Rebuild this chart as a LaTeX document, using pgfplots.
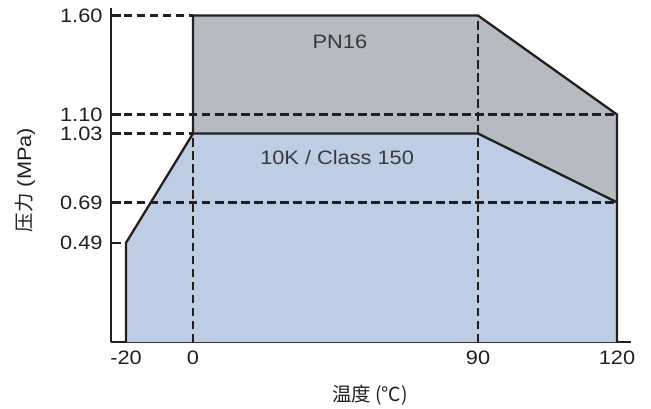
\documentclass[border=0pt]{standalone}
\usepackage{fontspec}
\setmainfont{Liberation Sans}[FakeStretch=1.12]
\newfontfamily\cjk{Noto Sans CJK SC}
\usepackage{pgfplots}
\pgfplotsset{compat=1.18}

\definecolor{pngray}{HTML}{B6BAC1}
\definecolor{kblue}{HTML}{BFCDE4}
\definecolor{edge}{HTML}{231F20}
\definecolor{txt}{HTML}{3A3A3A}

\begin{document}
\begin{tikzpicture}
\useasboundingbox (-111bp,-67bp) rectangle (540bp,342bp);
\begin{axis}[
    at={(0,0)}, anchor=south west,
    scale only axis, width=520bp, height=334bp,
    % the drawing is not to scale: piecewise maps, in bp from the axis corner
    x coord trafo/.code={\pgfmathparse{((#1)<0)*3.35*(#1)+((#1)>=0)*((#1)<=90)*3.1667*(#1)+((#1)>90)*(285+4.633*((#1)-90))}},
    y coord trafo/.code={\pgfmathparse{((#1)<=1.03)*202.4*(#1)+((#1)>1.03)*((#1)<=1.1)*(208.5+271*((#1)-1.03))+((#1)>1.1)*(227.5+198*((#1)-1.1))}},
    xmin=-24.48, xmax=123.02, ymin=0, ymax=1.638,
    axis x line*=bottom, axis y line*=left,
    axis line style={line width=2.8bp, edge},
    clip=false,
    xtick={-20,0,90,120}, xticklabels={-20,0,90,120},
    ytick={0.49,0.69,1.03,1.10,1.60},
    yticklabels={0.49,0.69,1.03,1.10,1.60},
    major x tick style={draw=none},
    major y tick style={line width=2.4bp, edge},
    major tick length=10bp, tick align=inside,
    tick label style={font=\fontsize{19.5}{22}\selectfont, text=edge},
    yticklabel style={xshift=-5bp},
    xticklabel style={yshift=-5bp},
    xlabel={\cjk 温度 (℃)},
    ylabel={{\cjk 压力} (MPa)},
    label style={font=\fontsize{19.5}{22}\selectfont, text=edge},
    xlabel style={at={(axis description cs:0.498,-0.159)}, anchor=center},
    ylabel style={at={(axis description cs:-0.1654,0.485)}, anchor=center},
]
% fills
\addplot[fill=kblue, draw=none] coordinates
    {(-20,0) (-20,0.49) (0,1.03) (90,1.03) (120,0.69) (120,0)} -- cycle;
\addplot[fill=pngray, draw=none] coordinates
    {(0,1.03) (0,1.60) (90,1.60) (120,1.10) (120,0.69) (90,1.03)} -- cycle;
% dashed guide lines
\addplot[edge, line width=2.4bp, dash pattern=on 8.5bp off 4.5bp] coordinates {(-24.48,1.60) (0,1.60)};
\addplot[edge, line width=2.4bp, dash pattern=on 8.5bp off 4.5bp] coordinates {(-24.48,1.10) (120,1.10)};
\addplot[edge, line width=2.4bp, dash pattern=on 8.5bp off 4.5bp] coordinates {(-24.48,1.03) (0,1.03)};
\addplot[edge, line width=2.4bp, dash pattern=on 8.5bp off 4.5bp] coordinates {(-24.48,0.69) (120,0.69)};
\addplot[edge, line width=2.4bp, dash pattern=on 8.5bp off 4.5bp] coordinates {(0,0) (0,1.03)};
\addplot[edge, line width=2.4bp, dash pattern=on 8.5bp off 4.5bp] coordinates {(90,0) (90,1.60)};
% outlines
\addplot[edge, line width=2.3bp, line join=miter] coordinates
    {(-20,0) (-20,0.49) (0,1.03) (90,1.03) (120,0.69) (120,0)};
\addplot[edge, line width=2.3bp, line join=miter] coordinates
    {(0,1.03) (0,1.60) (90,1.60) (120,1.10) (120,0.69)};
\node[text=txt, font=\fontsize{19.5}{22}\selectfont] at (axis cs:46.4,1.466) {PN16};
\node[text=txt, font=\fontsize{19.5}{22}\selectfont] at (axis cs:45.5,0.909) {10K / Class 150};
\end{axis}
\end{tikzpicture}
\end{document}
